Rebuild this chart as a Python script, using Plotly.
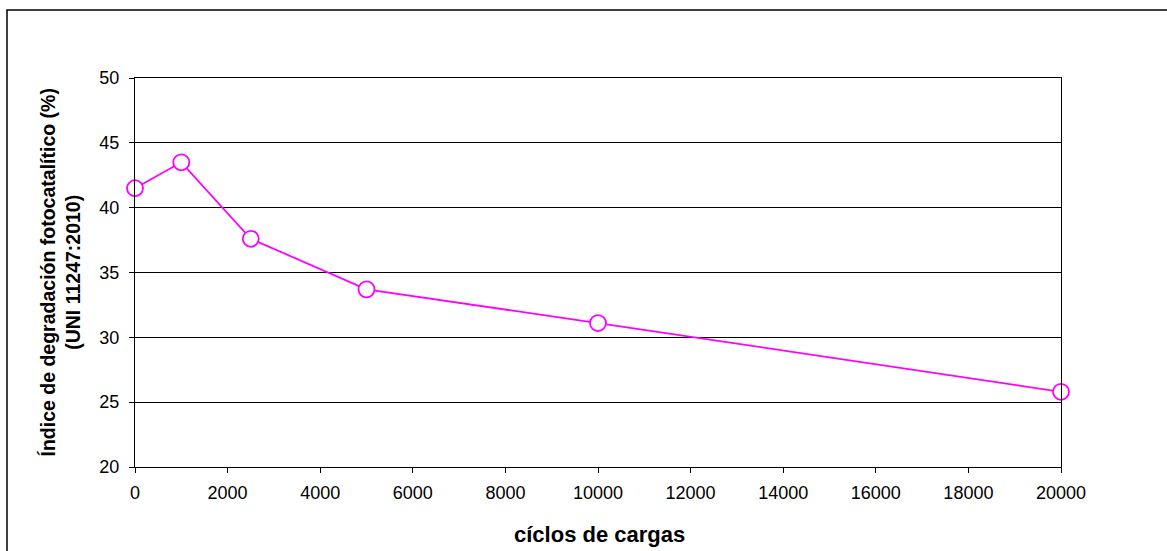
import plotly.graph_objects as go

cycles = [0, 1000, 2500, 5000, 10000, 20000]
index_values = [41.5, 43.5, 37.6, 33.7, 31.1, 25.8]
x_ticks = list(range(0, 20001, 2000))
y_ticks = [20, 25, 30, 35, 40, 45, 50]

W, H = 1167, 551
L, T = 135, 78
pw, ph = 926, 389
R = W - L - pw
B = H - T - ph

fig = go.Figure()
fig.add_trace(go.Scatter(
    x=cycles, y=index_values, mode="lines+markers",
    line=dict(color="#FF00FF", width=1.8),
    marker=dict(symbol="circle", size=16, color="white",
                line=dict(color="#FF00FF", width=1.8)),
    showlegend=False, cliponaxis=False,
))

font_main = "Arial, Liberation Sans, sans-serif"
fig.update_layout(
    width=W, height=H,
    margin=dict(l=L, r=R, t=T, b=B, pad=0),
    paper_bgcolor="white", plot_bgcolor="white",
    font=dict(family=font_main, size=18, color="black"),
    xaxis=dict(range=[0, 20000], tickvals=x_ticks, tickformat="d", ticks="outside", ticklen=5,
               tickcolor="black", showline=True, linecolor="black", linewidth=1.2,
               mirror=True, showgrid=False, zeroline=False, ticklabelstandoff=4,
               tickfont=dict(size=18)),
    yaxis=dict(range=[20, 50], tickvals=y_ticks, ticks="outside", ticklen=5,
               tickcolor="black", showline=True, linecolor="black", linewidth=1.2,
               mirror=True, showgrid=True, gridcolor="black", gridwidth=1,
               zeroline=False, ticklabelstandoff=6, tickfont=dict(size=18)),
)

def px_x(v):
    return (v - L) / pw

def px_y(v):
    return 1 - (v - T) / ph

fig.add_shape(type="rect", xref="paper", yref="paper",
              x0=px_x(7), x1=px_x(1190),
              y0=px_y(580), y1=px_y(10),
              line=dict(color="black", width=1.5), layer="below")

fig.add_annotation(text="<b>Índice de degradación fotocatalítico (%)<br>(UNI 11247:2010)</b>",
                   xref="paper", yref="paper",
                   x=px_x(60), y=0.5, textangle=-90, showarrow=False,
                   font=dict(size=19.5, family=font_main), xanchor="center", yanchor="middle")
fig.add_annotation(text="<b>cíclos de cargas</b>", xref="paper", yref="paper",
                   x=px_x(599), y=px_y(534), showarrow=False,
                   font=dict(size=22, family=font_main), xanchor="center", yanchor="middle")

fig.write_html("out.html", config={"displayModeBar": False},
               post_script="document.body.style.margin='0';document.body.style.overflow='hidden';")
